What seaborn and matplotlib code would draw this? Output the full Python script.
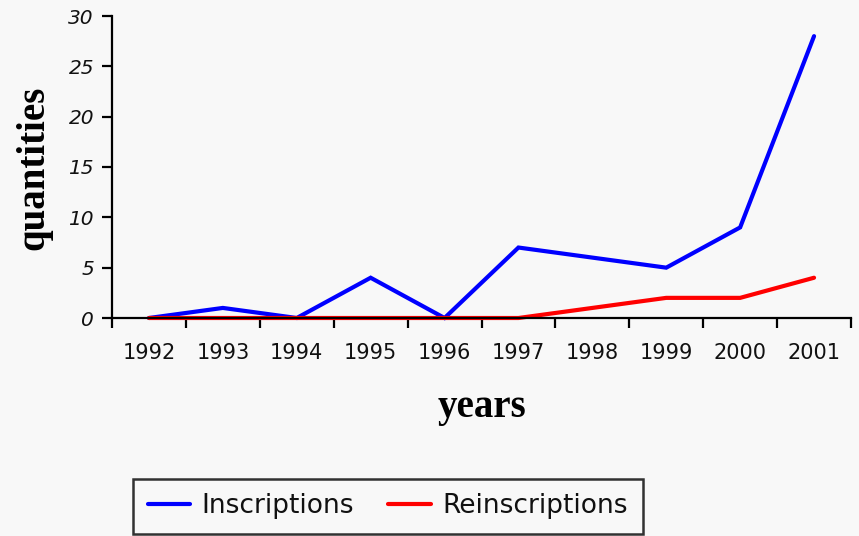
import matplotlib
matplotlib.use("Agg")
import matplotlib.pyplot as plt
import seaborn as sns
import pandas as pd
import numpy as np
from matplotlib.lines import Line2D

years = ["1992", "1993", "1994", "1995", "1996", "1997", "1998", "1999", "2000", "2001"]
inscriptions = [0, 1, 0, 4, 0, 7, 6, 5, 9, 28]
reinscriptions = [0, 0, 0, 0, 0, 0, 1, 2, 2, 4]
series_names = ["Inscriptions", "Reinscriptions"]
colors = ["#0000ff", "#ff0000"]
y_ticks = [0, 5, 10, 15, 20, 25, 30]

sns.set_theme(style="white")
plt.rcParams['font.family'] = ['DejaVu Sans']
plt.rcParams['text.color'] = 'black'

pos = list(range(len(years)))
df = pd.DataFrame({
    "pos": pos * 2,
    "value": inscriptions + reinscriptions,
    "series": [series_names[0]] * len(years) + [series_names[1]] * len(years),
})

bg = "#f8f8f8"
fig = plt.figure(figsize=(8.59, 5.36), dpi=100, facecolor=bg)
ax = fig.add_axes([112/859, 1-318/536, (851-112)/859, (318-16)/536])
ax.set_facecolor(bg)

sns.lineplot(data=df, x="pos", y="value", hue="series", palette=colors,
             ax=ax, legend=False)
for ln in ax.lines:
    ln.set_clip_on(False)
    ln.set_linewidth(3.0)
    ln.set_solid_capstyle("round")
    ln.set_solid_joinstyle("miter")

ax.set_xlim(-0.5, len(years) - 0.5)
ax.set_ylim(0, 30)

for s in ["top", "right"]:
    ax.spines[s].set_visible(False)
for s in ["left", "bottom"]:
    ax.spines[s].set_color("black")
    ax.spines[s].set_linewidth(1.6)

ax.set_xticks(np.arange(-0.5, len(years), 1.0))
ax.set_xticklabels([])
ax.set_xticks(pos, minor=True)
ax.set_xticklabels(years, minor=True, fontsize=15, color="#111111")
ax.tick_params(axis="x", which="major", direction="out", length=7, width=1.6, color="black", bottom=True)
ax.tick_params(axis="x", which="minor", length=0, pad=18, bottom=True)

ax.set_yticks(y_ticks)
ax.set_yticklabels([str(v) for v in y_ticks], fontsize=14.5, style="italic", color="#111111")
ax.tick_params(axis="y", direction="out", length=7, width=1.6, color="black", pad=6, left=True)

ax.set_xlabel("")
ax.set_ylabel("")
fig.text(482/859, 1-407/536, "years", ha="center", va="center", color="black",
         fontsize=28, fontweight="bold", family="Liberation Serif")
fig.text(34/859, 1-168/536, "quantities", ha="center", va="center", rotation=90, color="black",
         fontsize=28, fontweight="bold", family="Liberation Serif")

handles = [Line2D([0], [0], color=c, linewidth=3.0) for c in colors]
leg = fig.legend(handles, series_names, loc="lower left",
                 bbox_to_anchor=(133/859, 2/536), ncol=2, frameon=True,
                 fancybox=False, fontsize=19, handlelength=1.6, columnspacing=1.3,
                 handletextpad=0.45, borderpad=0.55, borderaxespad=0, facecolor=bg)
leg.get_frame().set_edgecolor("black")
leg.get_frame().set_linewidth(1.8)
for t in leg.get_texts():
    t.set_color("#111111")

fig.savefig("out.png", dpi=100, facecolor=bg)
